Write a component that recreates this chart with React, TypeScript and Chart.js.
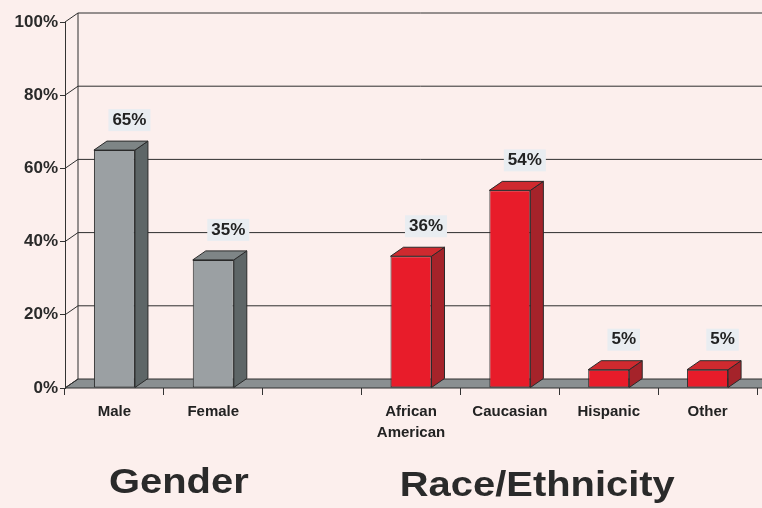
import { useEffect, useRef } from 'react';
import { Chart, registerables } from 'chart.js';

Chart.register(...registerables);

const categories: (string | string[])[] = ['Male', 'Female', '', ['African', 'American'], 'Caucasian', 'Hispanic', 'Other'];
const values: (number | null)[] = [65, 35, null, 36, 54, 5, 5];
const barGroup: (string | null)[] = ['gender', 'gender', null, 'race', 'race', 'race', 'race'];
const valueLabels: string[] = ['65%', '35%', '', '36%', '54%', '5%', '5%'];
const yTicks: number[] = [0, 20, 40, 60, 80, 100];
const groupTitles: string[] = ['Gender', 'Race/Ethnicity'];
const groupSpans: number[][] = [[0, 1], [3, 6]];

const palette: Record<string, { front: string; side: string; top: string }> = {
  gender: { front: '#9ba0a3', side: '#5e6667', top: '#7e8586' },
  race: { front: '#e81c2a', side: '#a5232a', top: '#cf2a2f' },
};

const BG = '#fcefed';
const DX = 13;
const DY = -9;

const threeD = {
  id: 'threeD',
  beforeDraw(chart: any) {
    const { ctx, width, height } = chart;
    ctx.save();
    ctx.fillStyle = BG;
    ctx.fillRect(0, 0, width, height);
    ctx.restore();
  },
  beforeDatasetsDraw(chart: any) {
    const { ctx, chartArea, scales } = chart;
    const { left, right, bottom } = chartArea;
    const y = scales.y;
    ctx.save();
    // floor
    ctx.fillStyle = '#8a8f91';
    ctx.strokeStyle = '#2e2e2e';
    ctx.lineWidth = 1;
    ctx.beginPath();
    ctx.moveTo(left, bottom);
    ctx.lineTo(right + DX, bottom);
    ctx.lineTo(right + DX, bottom + DY);
    ctx.lineTo(left + DX, bottom + DY);
    ctx.closePath();
    ctx.fill();
    ctx.stroke();
    // back wall
    ctx.beginPath();
    ctx.moveTo(left + DX, y.getPixelForValue(100) + DY);
    ctx.lineTo(left + DX, bottom + DY);
    for (const v of yTicks) {
      const py = y.getPixelForValue(v);
      ctx.moveTo(left, py);
      ctx.lineTo(left + DX, py + DY);
      if (v > 0) ctx.lineTo(right + DX, py + DY);
    }
    ctx.stroke();
    ctx.restore();
  },
  afterDatasetsDraw(chart: any) {
    const { ctx, chartArea, scales } = chart;
    const meta = chart.getDatasetMeta(0);
    ctx.save();
    ctx.lineWidth = 1;
    ctx.strokeStyle = '#2a2a2a';
    meta.data.forEach((bar: any, i: number) => {
      if (values[i] == null) return;
      const c = palette[barGroup[i] as string];
      const { x, y, base, width } = bar.getProps(['x', 'y', 'base', 'width'], true);
      const l = x - width / 2;
      const r = x + width / 2;
      // side
      ctx.fillStyle = c.side;
      ctx.beginPath();
      ctx.moveTo(r, y);
      ctx.lineTo(r + DX, y + DY);
      ctx.lineTo(r + DX, base + DY);
      ctx.lineTo(r, base);
      ctx.closePath();
      ctx.fill();
      ctx.stroke();
      // top
      ctx.fillStyle = c.top;
      ctx.beginPath();
      ctx.moveTo(l, y);
      ctx.lineTo(l + DX, y + DY);
      ctx.lineTo(r + DX, y + DY);
      ctx.lineTo(r, y);
      ctx.closePath();
      ctx.fill();
      ctx.stroke();
      // value label
      const txt = valueLabels[i];
      ctx.font = 'bold 17px Arial, "Liberation Sans", sans-serif';
      const tw = ctx.measureText(txt).width;
      const cx = x + 15;
      const cy = y - 30;
      ctx.fillStyle = '#e9edf1';
      ctx.fillRect(cx - tw / 2 - 4, cy - 11, tw + 8, 22);
      ctx.fillStyle = '#222';
      ctx.textAlign = 'center';
      ctx.textBaseline = 'middle';
      ctx.fillText(txt, cx, cy);
    });
    // group titles
    const xs = scales.x;
    const offsets = [15, -22];
    const dys = [95, 98];
    groupTitles.forEach((t, g) => {
      const [a, b] = groupSpans[g];
      const cx = (xs.getPixelForValue(a) + xs.getPixelForValue(b)) / 2 + offsets[g];
      const cy = chartArea.bottom + dys[g];
      ctx.save();
      ctx.translate(cx, cy);
      ctx.scale(1.14, 1);
      ctx.font = 'bold 35px Arial, "Liberation Sans", sans-serif';
      ctx.fillStyle = '#2a2a2a';
      ctx.textAlign = 'center';
      ctx.textBaseline = 'middle';
      ctx.fillText(t, 0, 0);
      ctx.restore();
    });
    ctx.restore();
  },
};

export default function App() {
  const ref = useRef<HTMLCanvasElement>(null);
  useEffect(() => {
    document.body.style.margin = '0';
    document.body.style.background = BG;
    const chart = new Chart(ref.current as HTMLCanvasElement, {
      type: 'bar',
      data: {
        labels: categories,
        datasets: [
          {
            data: values,
            backgroundColor: barGroup.map((g) => (g ? palette[g].front : 'transparent')),
            borderColor: '#2a2a2a',
            borderWidth: 1,
            borderSkipped: false,
            categoryPercentage: 1,
            barPercentage: 0.415,
          },
        ],
      },
      options: {
        animation: false,
        responsive: true,
        maintainAspectRatio: false,
        layout: { padding: { top: 22, right: 5, left: 0, bottom: 0 } },
        plugins: { legend: { display: false }, tooltip: { enabled: false }, title: { display: false } },
        scales: {
          x: {
            offset: true,
            afterFit: (s: any) => {
              s.height = 120;
            },
            grid: { display: true, drawOnChartArea: false, offset: true, tickLength: 7, color: '#333' },
            border: { display: false },
            ticks: {
              color: '#222',
              padding: 7,
              maxRotation: 0,
              autoSkip: false,
              font: { family: 'Arial, "Liberation Sans", sans-serif', size: 15, weight: 'bold', lineHeight: 1.35 },
            },
          },
          y: {
            min: 0,
            max: 100,
            afterFit: (s: any) => {
              s.width = 65;
            },
            grid: { display: true, drawOnChartArea: false, tickLength: 5, color: '#333' },
            border: { display: true, color: '#333' },
            ticks: {
              stepSize: 20,
              padding: 2,
              color: '#2a2a2a',
              callback: (v: any) => v + '%',
              font: { family: 'Arial, "Liberation Sans", sans-serif', size: 17, weight: 'bold' },
            },
          },
        },
      },
      plugins: [threeD],
    } as any);
    return () => chart.destroy();
  }, []);
  return (
    <div style={{ position: 'absolute', left: 0, top: 0, width: 762, height: 508, background: BG }}>
      <canvas ref={ref} />
    </div>
  );
}
